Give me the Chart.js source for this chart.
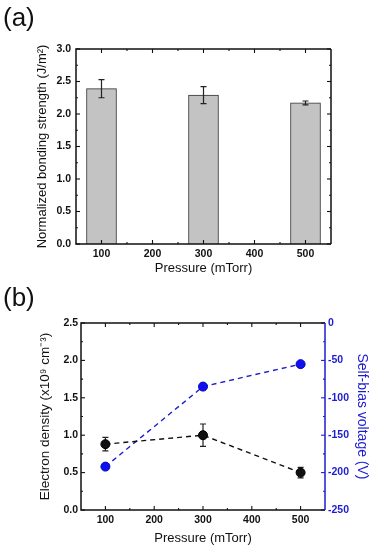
<!DOCTYPE html>
<html><head><meta charset="utf-8">
<script src="https://cdn.jsdelivr.net/npm/chart.js@4.4.1/dist/chart.umd.min.js"></script>
<style>
html,body{margin:0;padding:0;background:#fff;width:370px;height:550px;overflow:hidden;font-family:"Liberation Sans",Arial,sans-serif}
canvas{position:absolute;left:0}
.lab{position:absolute;left:3px;font-size:26px;line-height:30px;color:#111;z-index:2}
</style></head><body>
<canvas id="ca" width="370" height="280" style="top:0;width:370px;height:280px"></canvas>
<canvas id="cb" width="370" height="270" style="top:280px;width:370px;height:270px"></canvas>
<div class="lab" style="top:2px">(a)</div>
<div class="lab" style="top:282px">(b)</div>
<script>
// ---- data ----
const pressures = [100, 300, 500];
const bondStrength = [2.39, 2.29, 2.17];
const bondErr = [0.14, 0.13, 0.03];
const xTickLabels = [100, 200, 300, 400, 500];
const bondTicks = [0, 0.5, 1.0, 1.5, 2.0, 2.5, 3.0];
const electronDensity = [0.88, 1.0, 0.5];
const densityErr = [0.09, 0.15, 0.07];
const selfBias = [-192, -85, -55];
const densityTicks = [0, 0.5, 1.0, 1.5, 2.0, 2.5];
const biasTicks = [-250, -200, -150, -100, -50, 0];

Chart.defaults.font.family = "'Liberation Sans', Arial, sans-serif";
Chart.defaults.color = '#111';

const BLUE = '#1c1cd0';

function setTicks(arr){ return s => { s.ticks = arr.map(v => ({value: v})); }; }

const errorBars = {
  id: 'errorBars',
  draw(chart, layer, opts){
    if ((opts.layer || 'after') !== layer) return;
    const ctx = chart.ctx;
    chart.data.datasets.forEach((ds, i) => {
      if (!ds.errors) return;
      const meta = chart.getDatasetMeta(i);
      const xs = chart.scales[meta.xAxisID], ys = chart.scales[meta.yAxisID];
      ctx.save();
      ctx.strokeStyle = '#222'; ctx.lineWidth = 1.2;
      ds.data.forEach((d, j) => {
        const x = xs.getPixelForValue(d.x);
        const y1 = ys.getPixelForValue(d.y + ds.errors[j]);
        const y2 = ys.getPixelForValue(d.y - ds.errors[j]);
        const c = opts.cap || 3;
        ctx.beginPath();
        ctx.moveTo(x, y1); ctx.lineTo(x, y2);
        ctx.moveTo(x - c, y1); ctx.lineTo(x + c, y1);
        ctx.moveTo(x - c, y2); ctx.lineTo(x + c, y2);
        ctx.stroke();
      });
      ctx.restore();
    });
  },
  beforeDatasetsDraw(chart, a, opts){ this.draw(chart, 'before', opts); },
  afterDatasetsDraw(chart, a, opts){ this.draw(chart, 'after', opts); }
};

function minorVals(scale){
  const t = scale.ticks.map(k => k.value);
  const out = [];
  for (let i = 0; i < t.length - 1; i++) out.push((t[i] + t[i+1]) / 2);
  if (t.length > 1){
    const h = (t[1] - t[0]) / 2;
    if (t[0] - h > scale.min) out.push(t[0] - h);
    if (t[t.length-1] + h < scale.max) out.push(t[t.length-1] + h);
  }
  return out;
}

const frameTicks = {
  id: 'frameTicks',
  afterDatasetsDraw(chart, a, opts){
    const ctx = chart.ctx, ca = chart.chartArea;
    ctx.save();
    ctx.lineWidth = 1.1;
    (opts.axes || []).forEach(ax => {
      const s = chart.scales[ax.id];
      ctx.strokeStyle = ax.color || '#111';
      const majors = s.ticks.map(k => k.value);
      const minors = minorVals(s);
      [[majors, 4], [minors, 2]].forEach(([vals, len]) => {
        vals.forEach(v => {
          const p = s.getPixelForValue(v);
          ax.edges.forEach(e => {
            ctx.beginPath();
            if (e === 'left'){ ctx.moveTo(ca.left, p); ctx.lineTo(ca.left + len, p); }
            if (e === 'right'){ ctx.moveTo(ca.right, p); ctx.lineTo(ca.right - len, p); }
            if (e === 'bottom'){ ctx.moveTo(p, ca.bottom); ctx.lineTo(p, ca.bottom - len); }
            if (e === 'top'){ ctx.moveTo(p, ca.top); ctx.lineTo(p, ca.top + len); }
            ctx.stroke();
          });
        });
      });
    });
    ctx.lineWidth = 1.5;
    ctx.strokeStyle = '#111';
    ctx.beginPath();
    ctx.moveTo(ca.right, ca.top); ctx.lineTo(ca.left, ca.top); ctx.lineTo(ca.left, ca.bottom); ctx.lineTo(ca.right, ca.bottom);
    ctx.stroke();
    ctx.strokeStyle = opts.rightColor || '#111';
    ctx.beginPath(); ctx.moveTo(ca.right, ca.top); ctx.lineTo(ca.right, ca.bottom); ctx.stroke();
    ctx.restore();
  }
};

const tickFont = {size: 10.5, weight: 'bold'};
const noGrid = {display: false, drawTicks: false, tickLength: 0};

// ---- chart (a) ----
new Chart(document.getElementById('ca'), {
  type: 'bar',
  data: { datasets: [{
    data: pressures.map((p, i) => ({x: p, y: bondStrength[i]})),
    errors: bondErr,
    backgroundColor: '#c3c3c3', borderColor: '#333', borderWidth: 1, barThickness: 30
  }]},
  options: {
    responsive: false, animation: false, devicePixelRatio: 1,
    layout: {padding: {top: 49, right: 39, left: 0, bottom: 0}},
    plugins: {legend: {display: false}, tooltip: {enabled: false},
      errorBars: {layer: 'after', cap: 3},
      frameTicks: {axes: [{id: 'x', edges: ['bottom', 'top']}, {id: 'y', edges: ['left', 'right']}]}},
    scales: {
      x: {type: 'linear', offset: false, min: 50, max: 550, afterBuildTicks: setTicks(xTickLabels), afterFit: s => { s.height = 36; },
          grid: {...noGrid, offset: false}, border: {display: false},
          ticks: {font: tickFont, color: '#111', padding: 4},
          title: {display: true, text: 'Pressure (mTorr)', font: {size: 13}, color: '#111', padding: {top: 0, bottom: 4}}},
      y: {min: 0, max: 3, afterBuildTicks: setTicks(bondTicks), afterFit: s => { s.width = 76; },
          grid: noGrid, border: {display: false},
          ticks: {font: tickFont, color: '#111', padding: 5, callback: v => Number(v).toFixed(1)},
          title: {display: true, text: 'Normalized bonding strength (J/m²)', font: {size: 13}, color: '#111', padding: {top: 35, bottom: 0}}}
    }
  },
  plugins: [errorBars, frameTicks]
});

// ---- chart (b) ----
new Chart(document.getElementById('cb'), {
  type: 'line',
  data: { datasets: [
    { data: pressures.map((p, i) => ({x: p, y: electronDensity[i]})), errors: densityErr, yAxisID: 'y',
      borderColor: '#111', borderWidth: 1.4, borderDash: [5, 4], pointRadius: 4.5, pointBackgroundColor: '#111', pointBorderColor: '#000', pointBorderWidth: 1 },
    { data: pressures.map((p, i) => ({x: p, y: selfBias[i]})), yAxisID: 'y1',
      borderColor: BLUE, borderWidth: 1.4, borderDash: [5, 4], pointRadius: 4.5, pointBackgroundColor: '#1010ee', pointBorderColor: '#0000c0', pointBorderWidth: 1 }
  ]},
  options: {
    responsive: false, animation: false, devicePixelRatio: 1,
    layout: {padding: {top: 43, right: 0, left: 0, bottom: 0}},
    plugins: {legend: {display: false}, tooltip: {enabled: false},
      errorBars: {layer: 'before', cap: 3},
      frameTicks: {rightColor: BLUE, axes: [{id: 'x', edges: ['bottom', 'top']}, {id: 'y', edges: ['left']}, {id: 'y1', edges: ['right'], color: BLUE}]}},
    scales: {
      x: {type: 'linear', min: 50, max: 550, afterBuildTicks: setTicks(xTickLabels), afterFit: s => { s.height = 40; },
          grid: noGrid, border: {display: false},
          ticks: {font: tickFont, color: '#111', padding: 4},
          title: {display: true, text: 'Pressure (mTorr)', font: {size: 13}, color: '#111', padding: {top: 0, bottom: 4}}},
      y: {position: 'left', min: 0, max: 2.5, afterBuildTicks: setTicks(densityTicks), afterFit: s => { s.width = 81; },
          grid: noGrid, border: {display: false},
          ticks: {font: tickFont, color: '#111', padding: 3, callback: v => Number(v).toFixed(1)},
          title: {display: true, text: 'Electron density (x10⁹ cm⁻³)', font: {size: 13.5}, color: '#111', padding: {top: 37, bottom: 0}}},
      y1: {position: 'right', min: -250, max: 0, afterBuildTicks: setTicks(biasTicks), afterFit: s => { s.width = 45; },
          grid: noGrid, border: {display: false},
          ticks: {font: tickFont, color: BLUE, padding: 3},
          title: {display: true, text: 'Self-bias voltage (V)', font: {size: 14}, color: BLUE, padding: {top: 0, bottom: 0}}}
    }
  },
  plugins: [errorBars, frameTicks]
});
</script>
</body></html>
